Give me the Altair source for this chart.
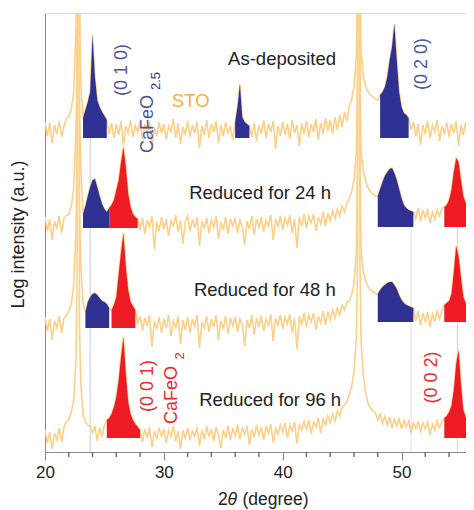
import altair as alt
import pandas as pd

# sampling positions (2theta, degrees), 0.2 deg steps
two_theta = [round(20 + 0.2 * i, 1) for i in range(181)]

# log intensities (offset, a.u.)
as_deposited = [
    330, 316, 329, 309, 327, 318, 331, 315, 326, 334,
    335, 342, 358, 420, 2500, 372, 334, 342, 350, 360,
    417, 375, 352, 345, 340, 336, 332, 318, 329, 314,
    328, 317, 331, 306, 326, 319, 332, 315, 327, 320,
    331, 313, 328, 318, 330, 302, 325, 316, 330, 319,
    328, 312, 326, 320, 333, 314, 329, 308, 325, 318,
    331, 315, 327, 319, 330, 304, 326, 317, 332, 314,
    328, 320, 331, 309, 327, 316, 330, 319, 326, 312,
    330, 345, 368, 335, 330, 328, 326, 315, 329, 311,
    327, 318, 332, 314, 328, 320, 331, 303, 326, 316,
    330, 317, 328, 313, 332, 319, 327, 306, 329, 318,
    331, 315, 328, 320, 333, 312, 329, 318, 334, 321,
    332, 318, 335, 322, 337, 325, 340, 331, 346, 352,
    365, 395, 2500, 400, 375, 365, 360, 357, 355, 353,
    352, 357, 360, 365, 375, 392, 405, 428, 392, 360,
    345, 339, 337, 334, 322, 330, 316, 328, 307, 327,
    318, 331, 314, 327, 320, 332, 311, 326, 319, 330,
    315, 328, 319, 331, 306, 327, 317, 330, 314, 326,
    320,
]
reduced_24h = [
    235, 221, 233, 212, 231, 224, 236, 219, 234, 236,
    238, 245, 262, 320, 2500, 290, 238, 246, 256, 265,
    272, 273, 265, 256, 248, 243, 240, 244, 247, 252,
    262, 272, 290, 305, 285, 258, 245, 238, 235, 233,
    222, 234, 218, 232, 225, 236, 203, 230, 221, 235,
    223, 233, 216, 231, 226, 237, 220, 232, 208, 230,
    236, 221, 233, 224, 235, 206, 231, 223, 234, 219,
    232, 225, 236, 213, 230, 222, 235, 218, 233, 226,
    234, 219, 232, 225, 207, 231, 223, 236, 217, 233,
    224, 235, 220, 232, 226, 237, 212, 233, 225, 236,
    222, 234, 227, 237, 219, 233, 204, 235, 226, 238,
    224, 236, 229, 238, 221, 235, 228, 240, 226, 239,
    231, 241, 233, 243, 236, 246, 240, 249, 253, 260,
    272, 300, 2500, 300, 280, 270, 264, 260, 258, 256,
    256, 263, 270, 276, 280, 283, 284, 279, 272, 263,
    254, 247, 244, 242, 241, 240, 233, 244, 231, 242,
    234, 243, 229, 240, 233, 242, 236, 244, 245, 247,
    252, 262, 280, 294, 290, 272, 256, 249, 246, 243,
    236,
]
reduced_48h = [
    135, 121, 133, 112, 131, 124, 136, 119, 134, 137,
    140, 148, 165, 220, 2500, 190, 150, 140, 150, 155,
    158, 159, 157, 154, 151, 150, 148, 144, 142, 147,
    155, 178, 200, 219, 185, 162, 150, 146, 142, 128,
    136, 121, 134, 126, 137, 105, 131, 123, 135, 119,
    133, 124, 137, 116, 131, 125, 136, 108, 132, 122,
    135, 119, 133, 126, 137, 104, 130, 124, 136, 120,
    133, 125, 137, 112, 131, 123, 136, 118, 134, 126,
    135, 120, 133, 127, 106, 132, 124, 137, 117, 134,
    125, 136, 121, 133, 127, 138, 111, 134, 126, 137,
    123, 135, 128, 138, 119, 134, 103, 136, 127, 139,
    125, 137, 130, 139, 122, 136, 129, 141, 127, 140,
    132, 142, 134, 144, 137, 147, 142, 150, 151, 157,
    168, 200, 2500, 200, 180, 170, 165, 162, 160, 159,
    158, 162, 165, 167, 169, 170, 170, 167, 163, 157,
    152, 149, 147, 146, 145, 144, 131, 141, 127, 139,
    130, 140, 125, 138, 131, 141, 133, 142, 147, 149,
    151, 158, 180, 206, 196, 175, 155, 149, 146, 144,
    134,
]
reduced_96h = [
    22, 9, 20, 3, 19, 12, 24, 10, 25, 30,
    33, 40, 50, 90, 2500, 70, 38, 30, 27, 25,
    19, 26, 11, 24, 15, 27, 32, 34, 38, 45,
    55, 72, 95, 115, 78, 50, 38, 32, 28, 25,
    22, 10, 23, 14, 25, 5, 21, 13, 24, 16,
    23, 9, 22, 15, 26, 11, 21, 3, 22, 14,
    24, 12, 21, 16, 25, 6, 22, 13, 26, 15,
    23, 11, 25, 17, 4, 22, 14, 26, 12, 23,
    16, 27, 13, 24, 18, 26, 7, 23, 15, 27,
    17, 25, 12, 26, 19, 28, 9, 24, 18, 27,
    20, 29, 14, 27, 21, 30, 8, 28, 22, 31,
    22, 32, 18, 30, 25, 34, 19, 33, 27, 36,
    29, 38, 31, 41, 36, 45, 47, 50, 57, 65,
    80, 115, 2500, 110, 75, 58, 48, 44, 41, 39,
    32, 38, 29, 36, 27, 35, 24, 33, 26, 34,
    23, 32, 25, 31, 19, 29, 24, 30, 21, 29,
    23, 30, 17, 28, 22, 31, 24, 30, 34, 36,
    40, 46, 62, 88, 102, 68, 42, 35, 32, 30,
    24,
]

# extra samples on the flanks of the SrTiO3 substrate peaks
sto_theta = [22.7, 22.9, 46.3, 46.5]
sto_as_deposited = [480, 450, 480, 470]
sto_24h = [380, 340, 380, 380]
sto_48h = [290, 250, 290, 290]
sto_96h = [170, 130, 190, 190]

trace_names = ["As-deposited", "Reduced for 24 h", "Reduced for 48 h", "Reduced for 96 h"]
traces = [as_deposited, reduced_24h, reduced_48h, reduced_96h]
sto_traces = [sto_as_deposited, sto_24h, sto_48h, sto_96h]

# shaded film peaks: trace index, 2theta range, floor, phase
peak_trace = [0, 0, 0, 1, 1, 1, 1, 2, 2, 2, 2, 3, 3]
peak_start = [23.2, 36.0, 48.2, 23.2, 25.4, 48.0, 53.6, 23.4, 25.6, 48.0, 53.6, 25.2, 53.6]
peak_end = [25.2, 37.2, 50.6, 25.4, 27.8, 51.0, 55.8, 25.4, 27.6, 51.0, 55.8, 28.0, 55.8]
peak_floor = [314, 314, 314, 224, 224, 225, 225, 124, 124, 130, 130, 14, 14]
peak_phase = ["CaFeO2.5", "CaFeO2.5", "CaFeO2.5", "CaFeO2.5", "CaFeO2", "CaFeO2.5", "CaFeO2",
              "CaFeO2.5", "CaFeO2", "CaFeO2.5", "CaFeO2", "CaFeO2", "CaFeO2"]

# sample labels
label_text = ["As-deposited", "Reduced for 24 h", "Reduced for 48 h", "Reduced for 96 h"]
label_x = [39.95, 38.1, 38.5, 38.95]
label_y = [393, 259, 162, 52]

# reflection labels (rotated)
navy_text = ["(0 1 0)", "CaFeO", "(0 2 0)"]
navy_x = [26.5, 28.65, 51.75]
navy_y = [382, 328, 388]
red_text = ["(0 0 1)", "CaFeO", "(0 0 2)"]
red_x = [28.65, 30.7, 52.6]
red_y = [66, 57, 74.5]
sub_text = ["2.5", "2"]
sub_x = [29.35, 31.4]
sub_y = [371, 96]
sub_phase = ["CaFeO2.5", "CaFeO2"]

# faint guide lines
guide_x = [23.8, 50.8, 54.7]
guide_top = [314, 225, 225]
guide_color = ["#C9CAE8", "#EDDCDC", "#F5C4C4"]

major_ticks = [20, 30, 40, 50]
minor_ticks = [22, 24, 26, 28, 32, 34, 36, 38, 42, 44, 46, 48, 52, 54, 56]

NAVY = "#2E3192"
RED = "#ED1C24"
ORANGE = "#FDD08A"
NAVY_TXT = "#5154A3"
RED_TXT = "#EE2A2E"
FONT = "Liberation Sans"

rows = []
for name, vals, svals in zip(trace_names, traces, sto_traces):
    for x, v in zip(two_theta, vals):
        rows.append({"trace": name, "x": x, "y": v})
    for x, v in zip(sto_theta, svals):
        rows.append({"trace": name, "x": x, "y": v})
df = pd.DataFrame(rows).sort_values(["trace", "x"])

frows = []
for k in range(len(peak_trace)):
    vals = traces[peak_trace[k]]
    for x, v in zip(two_theta, vals):
        if peak_start[k] - 1e-6 <= x <= peak_end[k] + 1e-6:
            frows.append({"seg": k, "x": x, "y": v, "y2": peak_floor[k], "phase": peak_phase[k]})
fdf = pd.DataFrame(frows)

xscale = alt.Scale(domain=[20, 56.1], nice=False, zero=False)
yscale = alt.Scale(domain=[0, 439], nice=False, zero=False)
phase_scale = alt.Scale(domain=["CaFeO2.5", "CaFeO2"], range=[NAVY, RED])

guides = alt.Chart(pd.DataFrame({"x": guide_x, "top": guide_top, "c": guide_color})).mark_rule(
    strokeWidth=1
).encode(
    x=alt.X("x:Q", scale=xscale),
    y=alt.Y("top:Q", scale=yscale),
    y2=alt.datum(0),
    color=alt.Color("c:N", scale=None),
)

line = alt.Chart(df).mark_line(color=ORANGE, strokeWidth=1.6, clip=True).encode(
    x=alt.X(
        "x:Q", scale=xscale,
        axis=alt.Axis(values=major_ticks, title=None, tickSize=8, labelFontSize=17,
                      labelPadding=4, labelFlush=False, grid=False, labelColor="#222222",
                      labelFont=FONT),
    ),
    y=alt.Y(
        "y:Q", scale=yscale,
        axis=alt.Axis(title="Log intensity (a.u.)", labels=False, ticks=False, grid=False,
                      titleFontSize=18, titleFontWeight="normal", titleColor="#222222",
                      titleFont=FONT, titleX=-27, titleY=221, titleAngle=270,
                      titleAlign="center", titleBaseline="middle"),
    ),
    detail="trace:N",
)

area = alt.Chart(fdf).mark_area(clip=True).encode(
    x=alt.X("x:Q", scale=xscale),
    y=alt.Y("y:Q", scale=yscale, stack=None),
    y2="y2:Q",
    color=alt.Color("phase:N", scale=phase_scale, legend=None),
    detail="seg:N",
)

minor = alt.Chart(pd.DataFrame({"x": minor_ticks})).mark_rule(color="#606060", strokeWidth=1.3).encode(
    x=alt.X("x:Q", scale=xscale),
    y=alt.value(439),
    y2=alt.value(444),
)

labels = alt.Chart(pd.DataFrame({"t": label_text, "x": label_x, "y": label_y})).mark_text(
    fontSize=18.5, color="#222222", font=FONT, align="center", baseline="middle"
).encode(x=alt.X("x:Q", scale=xscale), y=alt.Y("y:Q", scale=yscale), text="t:N")

navy_lbl = alt.Chart(pd.DataFrame({"t": navy_text, "x": navy_x, "y": navy_y})).mark_text(
    fontSize=18, color=NAVY_TXT, font=FONT, angle=270, align="center", baseline="middle"
).encode(x=alt.X("x:Q", scale=xscale), y=alt.Y("y:Q", scale=yscale), text="t:N")

red_lbl = alt.Chart(pd.DataFrame({"t": red_text, "x": red_x, "y": red_y})).mark_text(
    fontSize=18, color=RED_TXT, font=FONT, angle=270, align="center", baseline="middle"
).encode(x=alt.X("x:Q", scale=xscale), y=alt.Y("y:Q", scale=yscale), text="t:N")

sub_lbl = alt.Chart(pd.DataFrame({"t": sub_text, "x": sub_x, "y": sub_y, "p": sub_phase})).mark_text(
    fontSize=13, font=FONT, angle=270, align="center", baseline="middle"
).encode(
    x=alt.X("x:Q", scale=xscale), y=alt.Y("y:Q", scale=yscale), text="t:N",
    color=alt.Color("p:N", scale=alt.Scale(domain=["CaFeO2.5", "CaFeO2"], range=[NAVY_TXT, RED_TXT]), legend=None),
)

sto_lbl = alt.Chart(pd.DataFrame({"t": ["STO"], "x": [32.26], "y": [351]})).mark_text(
    fontSize=18.5, color="#FBB03B", font=FONT, align="center", baseline="middle"
).encode(x=alt.X("x:Q", scale=xscale), y=alt.Y("y:Q", scale=yscale), text="t:N")

xt1 = alt.Chart(pd.DataFrame({"t": ["2"]})).mark_text(
    fontSize=17.5, color="#222222", font=FONT, align="left", baseline="middle"
).encode(x=alt.value(173), y=alt.value(487), text="t:N")
xt2 = alt.Chart(pd.DataFrame({"t": ["θ"]})).mark_text(
    fontSize=17.5, color="#222222", font=FONT, fontStyle="italic", align="left", baseline="middle"
).encode(x=alt.value(182.5), y=alt.value(487), text="t:N")
xt3 = alt.Chart(pd.DataFrame({"t": ["(degree)"]})).mark_text(
    fontSize=17.5, color="#222222", font=FONT, align="left", baseline="middle"
).encode(x=alt.value(197.5), y=alt.value(487), text="t:N")

chart = alt.layer(
    guides, line, area, minor, labels, navy_lbl, red_lbl, sub_lbl, sto_lbl, xt1, xt2, xt3
).properties(
    width=429,
    height=439,
    autosize=alt.AutoSizeParams(type="none"),
    padding={"left": 37, "top": 5, "right": -8, "bottom": 58},
).configure_view(
    stroke="#808080", strokeWidth=1.5
).configure_axis(
    domainColor="#808080", domainWidth=1.5, tickColor="#606060", tickWidth=1.3
).configure(font=FONT)

chart.save("out.html", embed_options={"renderer": "svg", "actions": False})
